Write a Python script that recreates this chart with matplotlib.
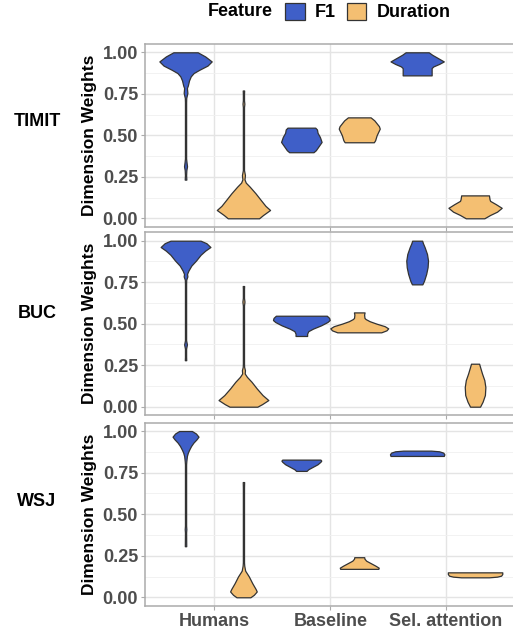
import matplotlib.pyplot as plt
from matplotlib.patches import Patch
import numpy as np

plt.rcParams['font.family'] = ['Liberation Sans', 'DejaVu Sans']
plt.rcParams['font.weight'] = 'bold'

datasets = ['TIMIT', 'BUC', 'WSJ']
models = ['Humans', 'Baseline', 'Sel. attention']
features = ['F1', 'Duration']
colors = {'F1': '#3F5FC8', 'Duration': '#F4BF72'}
yticks = [0.0, 0.25, 0.5, 0.75, 1.0]
yticklabels = ['0.00', '0.25', '0.50', '0.75', '1.00']

# violin outlines: (weight, half width)
timit_humans_f1 = [(0.233, 0.007), (0.26, 0.005), (0.29, 0.007), (0.313, 0.013), (0.34, 0.008),
                   (0.36, 0.005), (0.70, 0.005), (0.725, 0.006), (0.755, 0.016), (0.785, 0.012),
                   (0.80, 0.02), (0.83, 0.03), (0.855, 0.045), (0.875, 0.07), (0.895, 0.12),
                   (0.92, 0.19), (0.945, 0.226), (0.975, 0.17), (1.0, 0.105)]
timit_humans_dur = [(0.0, 0.135), (0.02, 0.17), (0.05, 0.23), (0.075, 0.19), (0.11, 0.15),
                    (0.15, 0.105), (0.19, 0.055), (0.215, 0.02), (0.235, 0.009), (0.26, 0.013),
                    (0.29, 0.005), (0.31, 0.005), (0.67, 0.005), (0.69, 0.008), (0.71, 0.005),
                    (0.75, 0.005), (0.77, 0.006)]
timit_base_f1 = [(0.398, 0.105), (0.41, 0.125), (0.435, 0.15), (0.46, 0.175), (0.49, 0.16),
                 (0.515, 0.14), (0.535, 0.135), (0.546, 0.12)]
timit_base_dur = [(0.458, 0.126), (0.47, 0.137), (0.50, 0.15), (0.54, 0.177), (0.555, 0.17),
                  (0.59, 0.13), (0.608, 0.098)]
timit_sel_f1 = [(0.861, 0.125), (0.905, 0.125), (0.915, 0.14), (0.93, 0.19), (0.945, 0.23),
                (0.965, 0.18), (0.985, 0.13), (1.0, 0.10)]
timit_sel_dur = [(0.0, 0.08), (0.02, 0.13), (0.04, 0.19), (0.063, 0.23), (0.085, 0.18),
                 (0.105, 0.13), (0.115, 0.125), (0.138, 0.12)]

buc_humans_f1 = [(0.28, 0.006), (0.30, 0.005), (0.35, 0.005), (0.375, 0.012), (0.40, 0.005),
                 (0.74, 0.005), (0.765, 0.006), (0.785, 0.016), (0.80, 0.013), (0.82, 0.025),
                 (0.85, 0.05), (0.88, 0.09), (0.915, 0.13), (0.94, 0.17), (0.962, 0.215),
                 (0.985, 0.18), (1.0, 0.13)]
buc_humans_dur = [(0.0, 0.12), (0.015, 0.16), (0.04, 0.215), (0.07, 0.165), (0.11, 0.115),
                  (0.15, 0.07), (0.18, 0.03), (0.20, 0.011), (0.22, 0.013), (0.24, 0.006),
                  (0.26, 0.005), (0.61, 0.005), (0.633, 0.009), (0.655, 0.005), (0.71, 0.005),
                  (0.727, 0.006)]
buc_base_f1 = [(0.426, 0.05), (0.44, 0.05), (0.455, 0.06), (0.47, 0.1), (0.49, 0.17),
               (0.51, 0.225), (0.522, 0.245), (0.535, 0.24), (0.548, 0.22)]
buc_base_dur = [(0.448, 0.19), (0.46, 0.235), (0.472, 0.25), (0.485, 0.22), (0.50, 0.15),
                (0.515, 0.09), (0.528, 0.055), (0.535, 0.045), (0.555, 0.042), (0.568, 0.046)]
buc_sel_f1 = [(0.737, 0.045), (0.76, 0.06), (0.80, 0.078), (0.84, 0.09), (0.88, 0.094),
              (0.92, 0.085), (0.96, 0.065), (0.985, 0.05), (1.0, 0.043)]
buc_sel_dur = [(0.0, 0.043), (0.03, 0.065), (0.07, 0.085), (0.118, 0.089), (0.16, 0.08),
               (0.2, 0.06), (0.235, 0.045), (0.259, 0.035)]

wsj_humans_f1 = [(0.307, 0.006), (0.39, 0.005), (0.41, 0.007), (0.43, 0.005), (0.80, 0.005),
                 (0.82, 0.007), (0.85, 0.012), (0.87, 0.02), (0.89, 0.033), (0.91, 0.048),
                 (0.93, 0.068), (0.95, 0.095), (0.966, 0.112), (0.985, 0.09), (1.0, 0.055)]
wsj_humans_dur = [(0.0, 0.06), (0.015, 0.09), (0.035, 0.115), (0.05, 0.105), (0.085, 0.076),
                  (0.125, 0.047), (0.16, 0.015), (0.19, 0.007), (0.21, 0.005), (0.66, 0.005),
                  (0.693, 0.006)]
wsj_base_f1 = [(0.76, 0.045), (0.77, 0.06), (0.785, 0.1), (0.80, 0.14), (0.815, 0.165),
               (0.822, 0.172), (0.828, 0.165)]
wsj_base_dur = [(0.171, 0.165), (0.178, 0.168), (0.19, 0.14), (0.205, 0.1), (0.22, 0.06),
                (0.232, 0.045), (0.241, 0.043)]
wsj_sel_f1 = [(0.85, 0.23), (0.86, 0.235), (0.87, 0.225), (0.878, 0.19), (0.882, 0.12)]
wsj_sel_dur = [(0.12, 0.12), (0.124, 0.19), (0.13, 0.225), (0.14, 0.235), (0.15, 0.235)]

profiles = {
    'TIMIT': [[timit_humans_f1, timit_humans_dur], [timit_base_f1, timit_base_dur],
              [timit_sel_f1, timit_sel_dur]],
    'BUC': [[buc_humans_f1, buc_humans_dur], [buc_base_f1, buc_base_dur],
            [buc_sel_f1, buc_sel_dur]],
    'WSJ': [[wsj_humans_f1, wsj_humans_dur], [wsj_base_f1, wsj_base_dur],
            [wsj_sel_f1, wsj_sel_dur]],
}

W, H = 513, 632
fig = plt.figure(figsize=(W / 100, H / 100), dpi=100)

# panel placement in pixels (top, bottom)
panel_px = [(44.0, 226.6), (232.4, 415.0), (422.7, 605.6)]
label_px = [122, 313, 501]
left, right = 145, 515.6

for i, ds in enumerate(datasets):
    top, bot = panel_px[i]
    ax = fig.add_axes([left / W, 1 - bot / H, (right - left) / W, (bot - top) / H])
    ax.set_xlim(0.4, 3.6)
    ax.set_ylim(-0.05, 1.05)
    ax.set_yticks(yticks)
    ax.set_yticklabels(yticklabels)
    ax.set_yticks([0.125, 0.375, 0.625, 0.875], minor=True)
    ax.set_xticks([1, 2, 3])
    ax.set_xticklabels(models if i == 2 else [])
    ax.grid(which='major', color='#E4E4E4', lw=1.0)
    ax.grid(which='minor', axis='y', color='#F0F0F0', lw=0.6)
    ax.set_axisbelow(True)
    for sp in ax.spines.values():
        sp.set_color('#ABABAB')
        sp.set_linewidth(1.1)
    ax.tick_params(which='major', color='#ABABAB', length=3, width=0.8, pad=2,
                   labelcolor='#4D4D4D', labelsize=13)
    ax.tick_params(which='minor', length=0)

    for j in range(len(models)):
        for k, f in enumerate(features):
            prof = np.array(profiles[ds][j][k])
            ys, hw = prof[:, 0], prof[:, 1]
            stats = [dict(coords=ys, vals=hw, mean=ys.mean(), median=np.median(ys),
                          min=ys.min(), max=ys.max())]
            parts = ax.violin(stats, positions=[j + 1 + (k - 0.5) * 0.5],
                              widths=[2 * hw.max()], showmeans=False,
                              showextrema=False, showmedians=False)
            for b in parts['bodies']:
                b.set_facecolor(colors[f])
                b.set_edgecolor('#333333')
                b.set_alpha(1)
                b.set_linewidth(0.9)
                b.set_zorder(3)

    fig.text(37 / W, 1 - label_px[i] / H, ds, ha='center', va='center',
             fontsize=13, fontweight='bold')
    fig.text(89.5 / W, 1 - (top + bot) / 2 / H, 'Dimension Weights', rotation=90,
             ha='center', va='center', fontsize=12.5, fontweight='bold')

# legend on top
handles = [Patch(facecolor=colors[f], edgecolor='#333333', lw=0.9, label=f) for f in features]
fig.legend(handles=handles, loc='center left', bbox_to_anchor=(285 / W, 1 - 12 / H),
           ncol=2, frameon=False, borderpad=0, borderaxespad=0, handlelength=1.1,
           handleheight=1.1, handletextpad=0.55, columnspacing=0.6,
           prop={'size': 13, 'weight': 'bold'})
fig.text(208 / W, 1 - 12 / H, 'Feature', ha='left', va='center', fontsize=13,
         fontweight='bold')

fig.savefig('out.png', dpi=100)
